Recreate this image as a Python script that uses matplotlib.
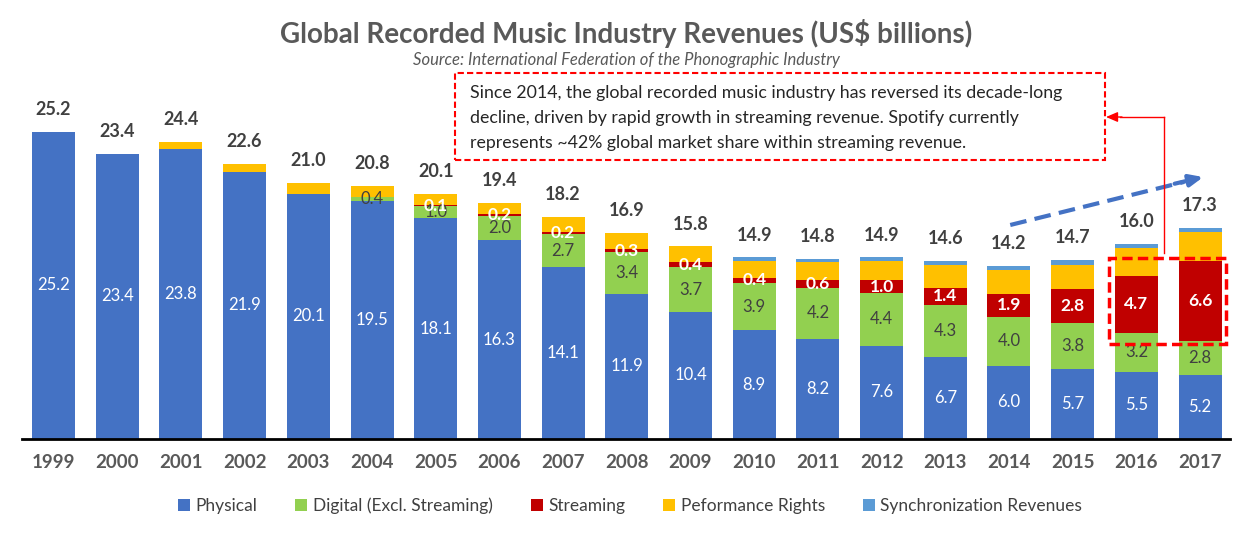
import numpy as np
import matplotlib
matplotlib.use('Agg')
import matplotlib.pyplot as plt
from matplotlib.patches import Rectangle
from matplotlib.lines import Line2D

plt.rcParams['font.family'] = ['Lato', 'DejaVu Sans']

years = ['1999', '2000', '2001', '2002', '2003', '2004', '2005', '2006', '2007', '2008',
         '2009', '2010', '2011', '2012', '2013', '2014', '2015', '2016', '2017']
physical = [25.2, 23.4, 23.8, 21.9, 20.1, 19.5, 18.1, 16.3, 14.1, 11.9,
            10.4, 8.9, 8.2, 7.6, 6.7, 6.0, 5.7, 5.5, 5.2]
digital = [0, 0, 0, 0, 0, 0.4, 1.0, 2.0, 2.7, 3.4,
           3.7, 3.9, 4.2, 4.4, 4.3, 4.0, 3.8, 3.2, 2.8]
streaming = [0, 0, 0, 0, 0, 0, 0.1, 0.2, 0.2, 0.3,
             0.4, 0.4, 0.6, 1.0, 1.4, 1.9, 2.8, 4.7, 6.6]
performance = [0, 0, 0.6, 0.7, 0.9, 0.9, 0.9, 0.9, 1.2, 1.3,
               1.3, 1.4, 1.5, 1.6, 1.9, 2.0, 2.0, 2.3, 2.4]
sync = [0, 0, 0, 0, 0, 0, 0, 0, 0, 0,
        0, 0.3, 0.3, 0.3, 0.3, 0.3, 0.4, 0.3, 0.3]
totals = [25.2, 23.4, 24.4, 22.6, 21.0, 20.8, 20.1, 19.4, 18.2, 16.9,
          15.8, 14.9, 14.8, 14.9, 14.6, 14.2, 14.7, 16.0, 17.3]

series = [('Physical', physical, '#4472C4'),
          ('Digital (Excl. Streaming)', digital, '#92D050'),
          ('Streaming', streaming, '#C00000'),
          ('Peformance Rights', performance, '#FFC000'),
          ('Synchronization Revenues', sync, '#5B9BD5')]

W, H = 1254, 536
fig = plt.figure(figsize=(W / 100, H / 100), dpi=100)


def fp(x, y):
    # pixel position -> figure fraction
    return (x / W, 1 - y / H)


base_y = 438.7
top_y = 70
ax = fig.add_axes([22 / W, (H - base_y) / H, (1230 - 22) / W, (base_y - top_y) / H])

x = np.arange(len(years))
bottom = np.zeros(len(years))
bars = {}
for name, vals, col in series:
    vals = np.array(vals, dtype=float)
    ax.bar(x, vals, 0.675, bottom=bottom, color=col, label=name, zorder=2)
    bars[name] = (bottom.copy(), vals)
    bottom += vals

ax.set_xlim(-0.495, len(years) - 1 + 0.47)
ax.set_ylim(0, (base_y - top_y) / 12.17)

# segment labels
b, v = bars['Physical']
for i in range(len(years)):
    ax.text(x[i], b[i] + v[i] / 2, f'{v[i]:.1f}', ha='center', va='center',
            color='white', fontsize=12, zorder=4)
b, v = bars['Digital (Excl. Streaming)']
for i in range(len(years)):
    if v[i] > 0:
        ax.text(x[i], b[i] + v[i] / 2, f'{v[i]:.1f}', ha='center', va='center',
                color='#404040', fontsize=12, zorder=4)
b, v = bars['Streaming']
for i in range(len(years)):
    if v[i] > 0:
        ax.text(x[i], b[i] + v[i] / 2, f'{v[i]:.1f}', ha='center', va='center',
                color='white', fontsize=12.5, fontweight='bold', zorder=5)

for i in range(len(years)):
    ax.annotate(f'{totals[i]:.1f}', (x[i], totals[i]), xytext=(0, 16),
                textcoords='offset points', ha='center', va='center',
                fontsize=13, fontweight='bold', color='#404040')

for s in ['top', 'right', 'left']:
    ax.spines[s].set_visible(False)
ax.spines['bottom'].set_color('black')
ax.spines['bottom'].set_linewidth(2)
ax.spines['bottom'].set_zorder(3)
ax.set_yticks([])
ax.set_xticks(x)
ax.set_xticklabels(years, fontsize=13.5, fontweight='bold', color='#595959')
ax.tick_params(axis='x', length=0, pad=11)

# red dashed box around recent streaming
sb, sv = bars['Streaming']
y0 = min(sb[17], sb[18]) - 0.2
y1 = max(sb[17] + sv[17], sb[18] + sv[18]) + 0.25
ax.add_patch(Rectangle((16.57, y0), 1.84, y1 - y0, fill=False, edgecolor='#FF0000',
                       linestyle=(0, (3, 1.5)), linewidth=2.5, zorder=6))

# blue trend arrow
ax.plot([15.02, 17.75], [17.56, 21.1], color='#4472C4', linestyle=(0, (4, 2)),
        linewidth=3, zorder=6, solid_capstyle='butt')
ax.annotate('', xy=(18.05, 21.5), xytext=(17.6, 20.95),
            arrowprops=dict(arrowstyle='-|>,head_length=0.8,head_width=0.35',
                            color='#4472C4', lw=3, shrinkA=0, shrinkB=0))

# titles
fig.text(*fp(626, 33), 'Global Recorded Music Industry Revenues (US$ billions)',
         ha='center', va='center', fontsize=20, fontweight='bold', color='#595959')
fig.text(*fp(626, 60), 'Source: International Federation of the Phonographic Industry',
         ha='center', va='center', fontsize=12, style='italic', color='#595959')

# annotation box
bx0, by0 = fp(455, 160)
bx1, by1 = fp(1105, 73)
fig.patches.append(Rectangle((bx0, by0), bx1 - bx0, by1 - by0, transform=fig.transFigure,
                             fill=False, edgecolor='#FF0000', linestyle=(0, (3, 1.5)),
                             linewidth=1.5))
fig.text(*fp(470, 118),
         'Since 2014, the global recorded music industry has reversed its decade-long\n'
         'decline, driven by rapid growth in streaming revenue. Spotify currently\n'
         'represents ~42% global market share within streaming revenue.',
         ha='left', va='center', fontsize=12.8, color='#262626', linespacing=1.7)

# connector arrow
fig.lines.append(Line2D([1164 / W, 1164 / W], [1 - 253 / H, 1 - 117 / H],
                        transform=fig.transFigure, color='#FF0000', lw=1))
fig.lines.append(Line2D([1164 / W, 1120 / W], [1 - 117 / H, 1 - 117 / H],
                        transform=fig.transFigure, color='#FF0000', lw=1))
ax.annotate('', xy=fp(1106, 117), xytext=fp(1122, 117), xycoords='figure fraction',
            textcoords='figure fraction',
            arrowprops=dict(arrowstyle='-|>,head_length=0.7,head_width=0.3',
                            color='#FF0000', lw=1, shrinkA=0, shrinkB=0))

handles, labels = ax.get_legend_handles_labels()
leg = fig.legend(handles, labels, loc='center', bbox_to_anchor=fp(630, 506), ncol=5,
                 frameon=False, fontsize=12.5, handlelength=0.7, handleheight=0.7,
                 handletextpad=0.3, columnspacing=2.2)
for t in leg.get_texts():
    t.set_color('#404040')

fig.savefig('out.png', dpi=100)
